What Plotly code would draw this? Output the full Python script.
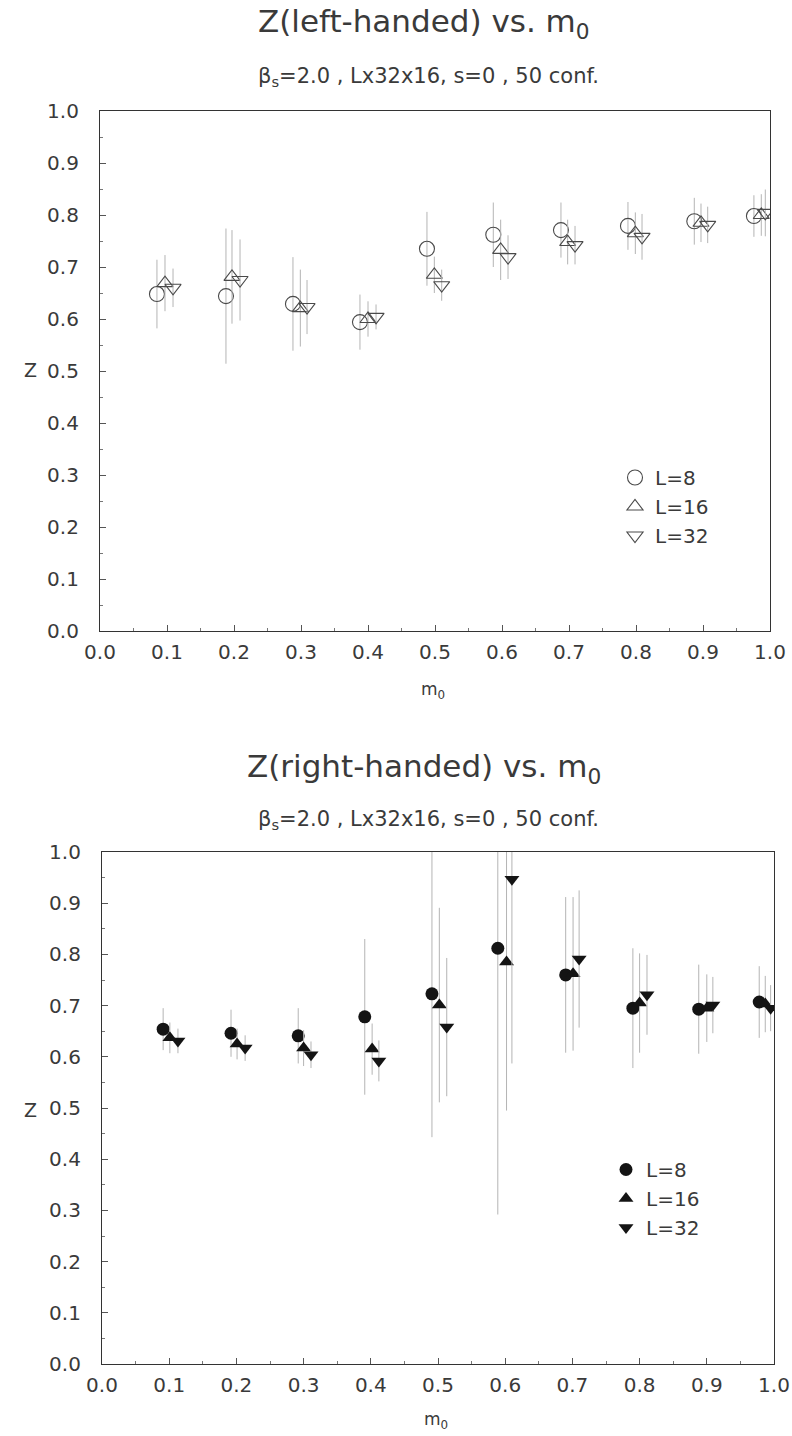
import plotly.graph_objects as go

# ---------------- data ----------------
series_names = ["L=8", "L=16", "L=32"]

# Top panel: Z(left-handed)
m0_L8_left = [0.085, 0.188, 0.288, 0.388, 0.488, 0.587, 0.688, 0.788, 0.887, 0.976]
Z_L8_left = [0.648, 0.644, 0.629, 0.594, 0.735, 0.762, 0.771, 0.779, 0.788, 0.798]
err_L8_left = [0.066, 0.130, 0.090, 0.053, 0.071, 0.062, 0.053, 0.046, 0.045, 0.040]

m0_L16_left = [0.097, 0.197, 0.299, 0.400, 0.499, 0.598, 0.698, 0.799, 0.897, 0.987]
Z_L16_left = [0.669, 0.681, 0.621, 0.600, 0.685, 0.733, 0.748, 0.765, 0.785, 0.800]
err_L16_left = [0.054, 0.090, 0.074, 0.034, 0.035, 0.058, 0.043, 0.040, 0.037, 0.040]

m0_L32_left = [0.109, 0.209, 0.309, 0.412, 0.510, 0.609, 0.709, 0.809, 0.907, 0.993]
Z_L32_left = [0.660, 0.675, 0.623, 0.604, 0.665, 0.719, 0.742, 0.758, 0.781, 0.804]
err_L32_left = [0.037, 0.078, 0.052, 0.024, 0.030, 0.042, 0.037, 0.044, 0.035, 0.045]

# Bottom panel: Z(right-handed)
m0_L8_right = [0.091, 0.192, 0.292, 0.391, 0.491, 0.589, 0.690, 0.790, 0.888, 0.978]
Z_L8_right = [0.654, 0.646, 0.641, 0.678, 0.723, 0.812, 0.760, 0.695, 0.693, 0.707]
err_L8_right = [0.041, 0.046, 0.054, 0.152, 0.280, 0.520, 0.152, 0.117, 0.087, 0.070]

m0_L16_right = [0.101, 0.201, 0.300, 0.402, 0.502, 0.602, 0.701, 0.800, 0.900, 0.987]
Z_L16_right = [0.637, 0.625, 0.617, 0.615, 0.701, 0.785, 0.762, 0.705, 0.695, 0.703]
err_L16_right = [0.030, 0.030, 0.035, 0.050, 0.190, 0.290, 0.150, 0.097, 0.066, 0.055]

m0_L32_right = [0.113, 0.213, 0.311, 0.412, 0.513, 0.610, 0.710, 0.811, 0.909, 0.995]
Z_L32_right = [0.631, 0.617, 0.604, 0.592, 0.658, 0.947, 0.791, 0.721, 0.701, 0.695]
err_L32_right = [0.024, 0.025, 0.026, 0.040, 0.135, 0.360, 0.134, 0.078, 0.055, 0.045]

tick_vals = [0.0, 0.1, 0.2, 0.3, 0.4, 0.5, 0.6, 0.7, 0.8, 0.9, 1.0]
tick_text = ["0.0", "0.1", "0.2", "0.3", "0.4", "0.5", "0.6", "0.7", "0.8", "0.9", "1.0"]

# ---------------- styling ----------------
W, H = 792, 1436
FONT = "DejaVu Sans, Liberation Sans, Arial, sans-serif"
TXT = "#3a3a3a"
ERRC = "#b4b4b4"

fig = go.Figure()

top_sets = [
    (m0_L8_left, Z_L8_left, err_L8_left, "circle-open", 15),
    (m0_L16_left, Z_L16_left, err_L16_left, "triangle-up-open", 14),
    (m0_L32_left, Z_L32_left, err_L32_left, "triangle-down-open", 14),
]
bot_sets = [
    (m0_L8_right, Z_L8_right, err_L8_right, "circle", 13),
    (m0_L16_right, Z_L16_right, err_L16_right, "triangle-up", 13),
    (m0_L32_right, Z_L32_right, err_L32_right, "triangle-down", 13),
]

for name, (xs, ys, es, sym, sz) in zip(series_names, top_sets):
    fig.add_trace(go.Scatter(
        x=xs, y=ys, mode="markers", name=name,
        xaxis="x", yaxis="y", legend="legend",
        marker=dict(symbol=sym, size=sz, color="#4a4a4a", line=dict(width=1.1, color="#4a4a4a")),
        error_y=dict(type="data", array=es, color=ERRC, thickness=1, width=0),
    ))

for name, (xs, ys, es, sym, sz) in zip(series_names, bot_sets):
    fig.add_trace(go.Scatter(
        x=xs, y=ys, mode="markers", name=name,
        xaxis="x2", yaxis="y2", legend="legend2",
        marker=dict(symbol=sym, size=sz, color="#141414", line=dict(width=0)),
        error_y=dict(type="data", array=es, color=ERRC, thickness=1, width=0),
    ))


def px_x(p):
    return p / W


def px_y(p):
    return 1 - p / H


def axis_common():
    return dict(
        range=[0, 1], tickvals=tick_vals, ticktext=tick_text,
        ticks="inside", ticklen=6, tickwidth=1, tickcolor="#555",
        minor=dict(ticks="inside", ticklen=3, tickwidth=1, tickcolor="#777", dtick=0.05),
        showline=True, linecolor="#333", linewidth=1.2, mirror=True,
        showgrid=False, zeroline=False, automargin=False,
        tickfont=dict(family=FONT, size=20, color=TXT),
    )


xa = axis_common(); xa.update(domain=[px_x(100), px_x(770)], anchor="y", ticklabelstandoff=3)
ya = axis_common(); ya.update(domain=[px_y(631), px_y(111)], anchor="x", ticklabelstandoff=16)
xa2 = axis_common(); xa2.update(domain=[px_x(102), px_x(774)], anchor="y2", ticklabelstandoff=3)
ya2 = axis_common(); ya2.update(domain=[px_y(1364), px_y(852)], anchor="x2", ticklabelstandoff=16)

legend_common = dict(
    font=dict(family=FONT, size=20, color=TXT),
    bgcolor="rgba(0,0,0,0)", borderwidth=0,
    xanchor="left", yanchor="top", itemsizing="trace",
    tracegroupgap=0,
)

annotations = []


def add_text(text, x, y, size, **kw):
    annotations.append(dict(
        text=text, x=px_x(x), y=px_y(y), xref="paper", yref="paper",
        showarrow=False, xanchor="center", yanchor="middle",
        font=dict(family=FONT, size=size, color=TXT), **kw))


add_text("Z(left-handed) vs. m<sub>0</sub>", 424, 24, 31)
add_text("β<sub>s</sub>=2.0 , Lx32x16, s=0 , 50 conf.", 429, 77, 21)
add_text("Z(right-handed) vs. m<sub>0</sub>", 424, 768, 31)
add_text("β<sub>s</sub>=2.0 , Lx32x16, s=0 , 50 conf.", 429, 820, 21)
add_text("m<sub>0</sub>", 433, 690, 17)
add_text("m<sub>0</sub>", 436, 1420, 17)
add_text("Z", 30, 370, 19)
add_text("Z", 30, 1110, 19)

fig.update_layout(
    width=W, height=H,
    margin=dict(l=0, r=0, t=0, b=0, autoexpand=False),
    paper_bgcolor="white", plot_bgcolor="white",
    font=dict(family=FONT, color=TXT),
    xaxis=xa, yaxis=ya, xaxis2=xa2, yaxis2=ya2,
    legend=dict(x=px_x(615), y=px_y(458), **legend_common),
    legend2=dict(x=px_x(606), y=px_y(1150), **legend_common),
    annotations=annotations,
    showlegend=True,
)

fig.write_html("out.html")
